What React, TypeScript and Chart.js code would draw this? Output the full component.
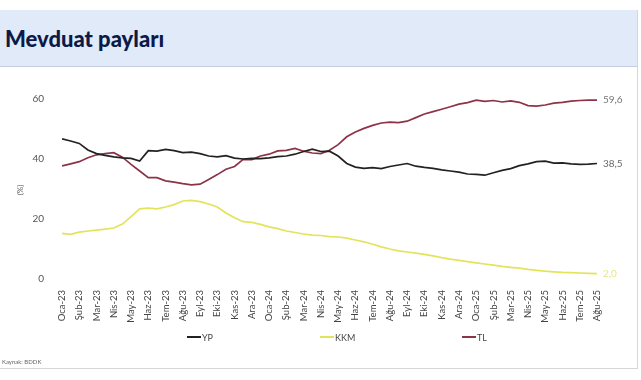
import React, { useEffect, useRef } from "react";
import { Chart, registerables } from "chart.js";

Chart.register(...registerables);

const months = [
  "Oca-23", "Şub-23", "Mar-23", "Nis-23", "May-23", "Haz-23", "Tem-23", "Ağu-23",
  "Eyl-23", "Eki-23", "Kas-23", "Ara-23", "Oca-24", "Şub-24", "Mar-24", "Nis-24",
  "May-24", "Haz-24", "Tem-24", "Ağu-24", "Eyl-24", "Eki-24", "Kas-24", "Ara-24",
  "Oca-25", "Şub-25", "Mar-25", "Nis-25", "May-25", "Haz-25", "Tem-25", "Ağu-25",
];

// semi-monthly observations (two per month, from Oca-23 to Ağu-25)
const ypValues = [
  46.7, 46.0, 45.2, 43.0, 41.8, 41.2, 40.7, 40.4, 40.2, 39.3,
  42.8, 42.6, 43.2, 42.8, 42.1, 42.3, 41.8, 41.0, 40.7, 41.1,
  40.3, 40.0, 40.2, 40.1, 40.4, 40.8, 41.0, 41.6, 42.5, 43.3,
  42.5, 42.6, 41.0, 38.5, 37.3, 36.9, 37.1, 36.8, 37.5, 38.0,
  38.5, 37.6, 37.2, 36.9, 36.4, 36.0, 35.6, 35.0, 34.9, 34.6,
  35.4, 36.2, 36.8, 37.8, 38.4, 39.1, 39.3, 38.6, 38.7, 38.4,
  38.2, 38.3, 38.5,
];
const kkmValues = [
  15.2, 14.9, 15.6, 16.0, 16.3, 16.6, 17.0, 18.3, 20.8, 23.4,
  23.6, 23.4, 24.0, 24.8, 26.0, 26.2, 25.8, 25.0, 24.0, 22.0,
  20.4, 19.1, 18.9, 18.2, 17.4, 16.8, 16.0, 15.5, 15.0, 14.6,
  14.5, 14.1, 14.0, 13.6, 13.0, 12.4, 11.6, 10.7, 10.0, 9.4,
  9.0, 8.6, 8.2, 7.7, 7.1, 6.6, 6.2, 5.8, 5.4, 5.0,
  4.6, 4.2, 3.9, 3.6, 3.2, 2.9, 2.6, 2.4, 2.2, 2.1,
  2.0, 1.9, 1.8,
];
const tlValues = [
  37.7, 38.4, 39.1, 40.4, 41.4, 41.8, 42.1, 40.6, 38.2, 36.0,
  33.8, 33.8, 32.7, 32.3, 31.8, 31.4, 31.6, 33.2, 34.8, 36.6,
  37.5, 39.9, 39.8, 41.0, 41.6, 42.7, 42.9, 43.5, 42.6, 42.0,
  41.8, 42.9, 44.8, 47.4, 49.0, 50.2, 51.2, 52.0, 52.3, 52.1,
  52.6, 53.8, 55.0, 55.8, 56.6, 57.4, 58.3, 58.8, 59.6, 59.2,
  59.5, 59.0, 59.4, 58.9, 57.8, 57.6, 58.0, 58.6, 58.9, 59.3,
  59.5, 59.6, 59.6,
];
const endLabels = ["38,5", "2,0", "59,6"];
const seriesNames = ["YP", "KKM", "TL"];
const seriesColors = ["#222222", "#e3e35c", "#8c3347"];
const endLabelColors = ["#6a6a6a", "#e6e68a", "#777777"];
const yTicks = [0, 20, 40, 60];

const FONT = "Lato, 'Open Sans', sans-serif";

export default function App() {
  const canvasRef = useRef<HTMLCanvasElement | null>(null);

  useEffect(() => {
    document.body.style.margin = "0";
    const canvas = canvasRef.current;
    if (!canvas) return;
    const toPoints = (vals: number[]) => vals.map((v, i) => ({ x: i / 2, y: v }));
    const endLabelPlugin = {
      id: "endLabels",
      afterDatasetsDraw(chart: any) {
        const ctx = chart.ctx;
        ctx.save();
        ctx.font = `10px ${FONT}`;
        ctx.textBaseline = "middle";
        ctx.textAlign = "left";
        chart.data.datasets.forEach((ds: any, i: number) => {
          const meta = chart.getDatasetMeta(i);
          const last = meta.data[meta.data.length - 1];
          if (!last) return;
          ctx.fillStyle = endLabelColors[i];
          ctx.fillText(endLabels[i], last.x + 6, last.y);
        });
        ctx.restore();
      },
    };
    const chart = new Chart(canvas, {
      type: "line",
      data: {
        datasets: [ypValues, kkmValues, tlValues].map((vals, i) => ({
          label: seriesNames[i],
          data: toPoints(vals),
          borderColor: seriesColors[i],
          backgroundColor: seriesColors[i],
          borderWidth: 1.7,
          pointRadius: 0,
          tension: 0,
          fill: false,
        })),
      },
      options: {
        animation: false,
        responsive: false,
        maintainAspectRatio: false,
        layout: { padding: { left: 0, top: 99, right: 44, bottom: 56 } },
        plugins: {
          legend: { display: false },
          tooltip: { enabled: false },
          title: { display: false },
        },
        scales: {
          x: {
            type: "linear",
            min: 0,
            max: 31,
            grid: { display: false },
            border: { display: false },
            afterFit: (s: any) => { s.height = 45; },
            afterBuildTicks: (s: any) => {
              s.ticks = months.map((_, i) => ({ value: i }));
            },
            ticks: {
              autoSkip: false,
              minRotation: 90,
              maxRotation: 90,
              padding: 3,
              color: "#444",
              font: { family: FONT, size: 9.5 },
              callback: (v: any) => months[v] ?? "",
            },
          },
          y: {
            min: 0,
            max: 60,
            grid: { display: false },
            border: { display: false },
            afterFit: (s: any) => { s.width = 62; },
            afterBuildTicks: (s: any) => {
              s.ticks = yTicks.map((v) => ({ value: v }));
            },
            ticks: {
              padding: 10,
              color: "#555",
              font: { family: FONT, size: 10 },
            },
          },
        },
      },
      plugins: [endLabelPlugin],
    });
    return () => chart.destroy();
  }, []);

  const legendItem = (i: number, left: number) => (
    <div
      key={i}
      style={{
        position: "absolute",
        left,
        top: 331,
        height: 12,
        display: "flex",
        alignItems: "center",
        fontFamily: FONT,
        fontSize: 9,
        color: "#444",
      }}
    >
      <span style={{ display: "inline-block", width: 14, height: 2, background: seriesColors[i], marginRight: 1 }} />
      <span>{seriesNames[i]}</span>
    </div>
  );

  return (
    <div style={{ position: "relative", width: 641, height: 380, background: "#fff", overflow: "hidden" }}>
      <div
        style={{
          position: "absolute",
          left: 0,
          top: 10,
          width: 637,
          height: 56,
          background: "#e0eaf8",
          borderBottom: "1px solid #c4cede",
        }}
      />
      <div
        style={{
          position: "absolute",
          left: 5,
          top: 24,
          fontFamily: FONT,
          fontWeight: 900,
          fontSize: 22,
          color: "#0c1a4a",
          lineHeight: "30px",
        }}
      >
        Mevduat payları
      </div>
      <div style={{ position: "absolute", left: 637, top: 10, width: 1, height: 359, background: "#d6d6d6" }} />
      <div style={{ position: "absolute", left: 0, top: 368, width: 638, height: 1, background: "#d6d6d6" }} />
      <canvas ref={canvasRef} width={641} height={380} style={{ position: "absolute", left: 0, top: 0, width: 641, height: 380 }} />
      <div
        style={{
          position: "absolute",
          left: 20,
          top: 190,
          transform: "translate(-50%, -50%) rotate(-90deg)",
          fontFamily: FONT,
          fontSize: 8,
          color: "#555",
          whiteSpace: "nowrap",
        }}
      >
        (%)
      </div>
      {legendItem(0, 187)}
      {legendItem(1, 320)}
      {legendItem(2, 462)}
      <div
        style={{
          position: "absolute",
          left: 2,
          top: 358,
          fontFamily: FONT,
          fontSize: 6,
          color: "#666",
          whiteSpace: "nowrap",
        }}
      >
        Kaynak: BDDK
      </div>
    </div>
  );
}
